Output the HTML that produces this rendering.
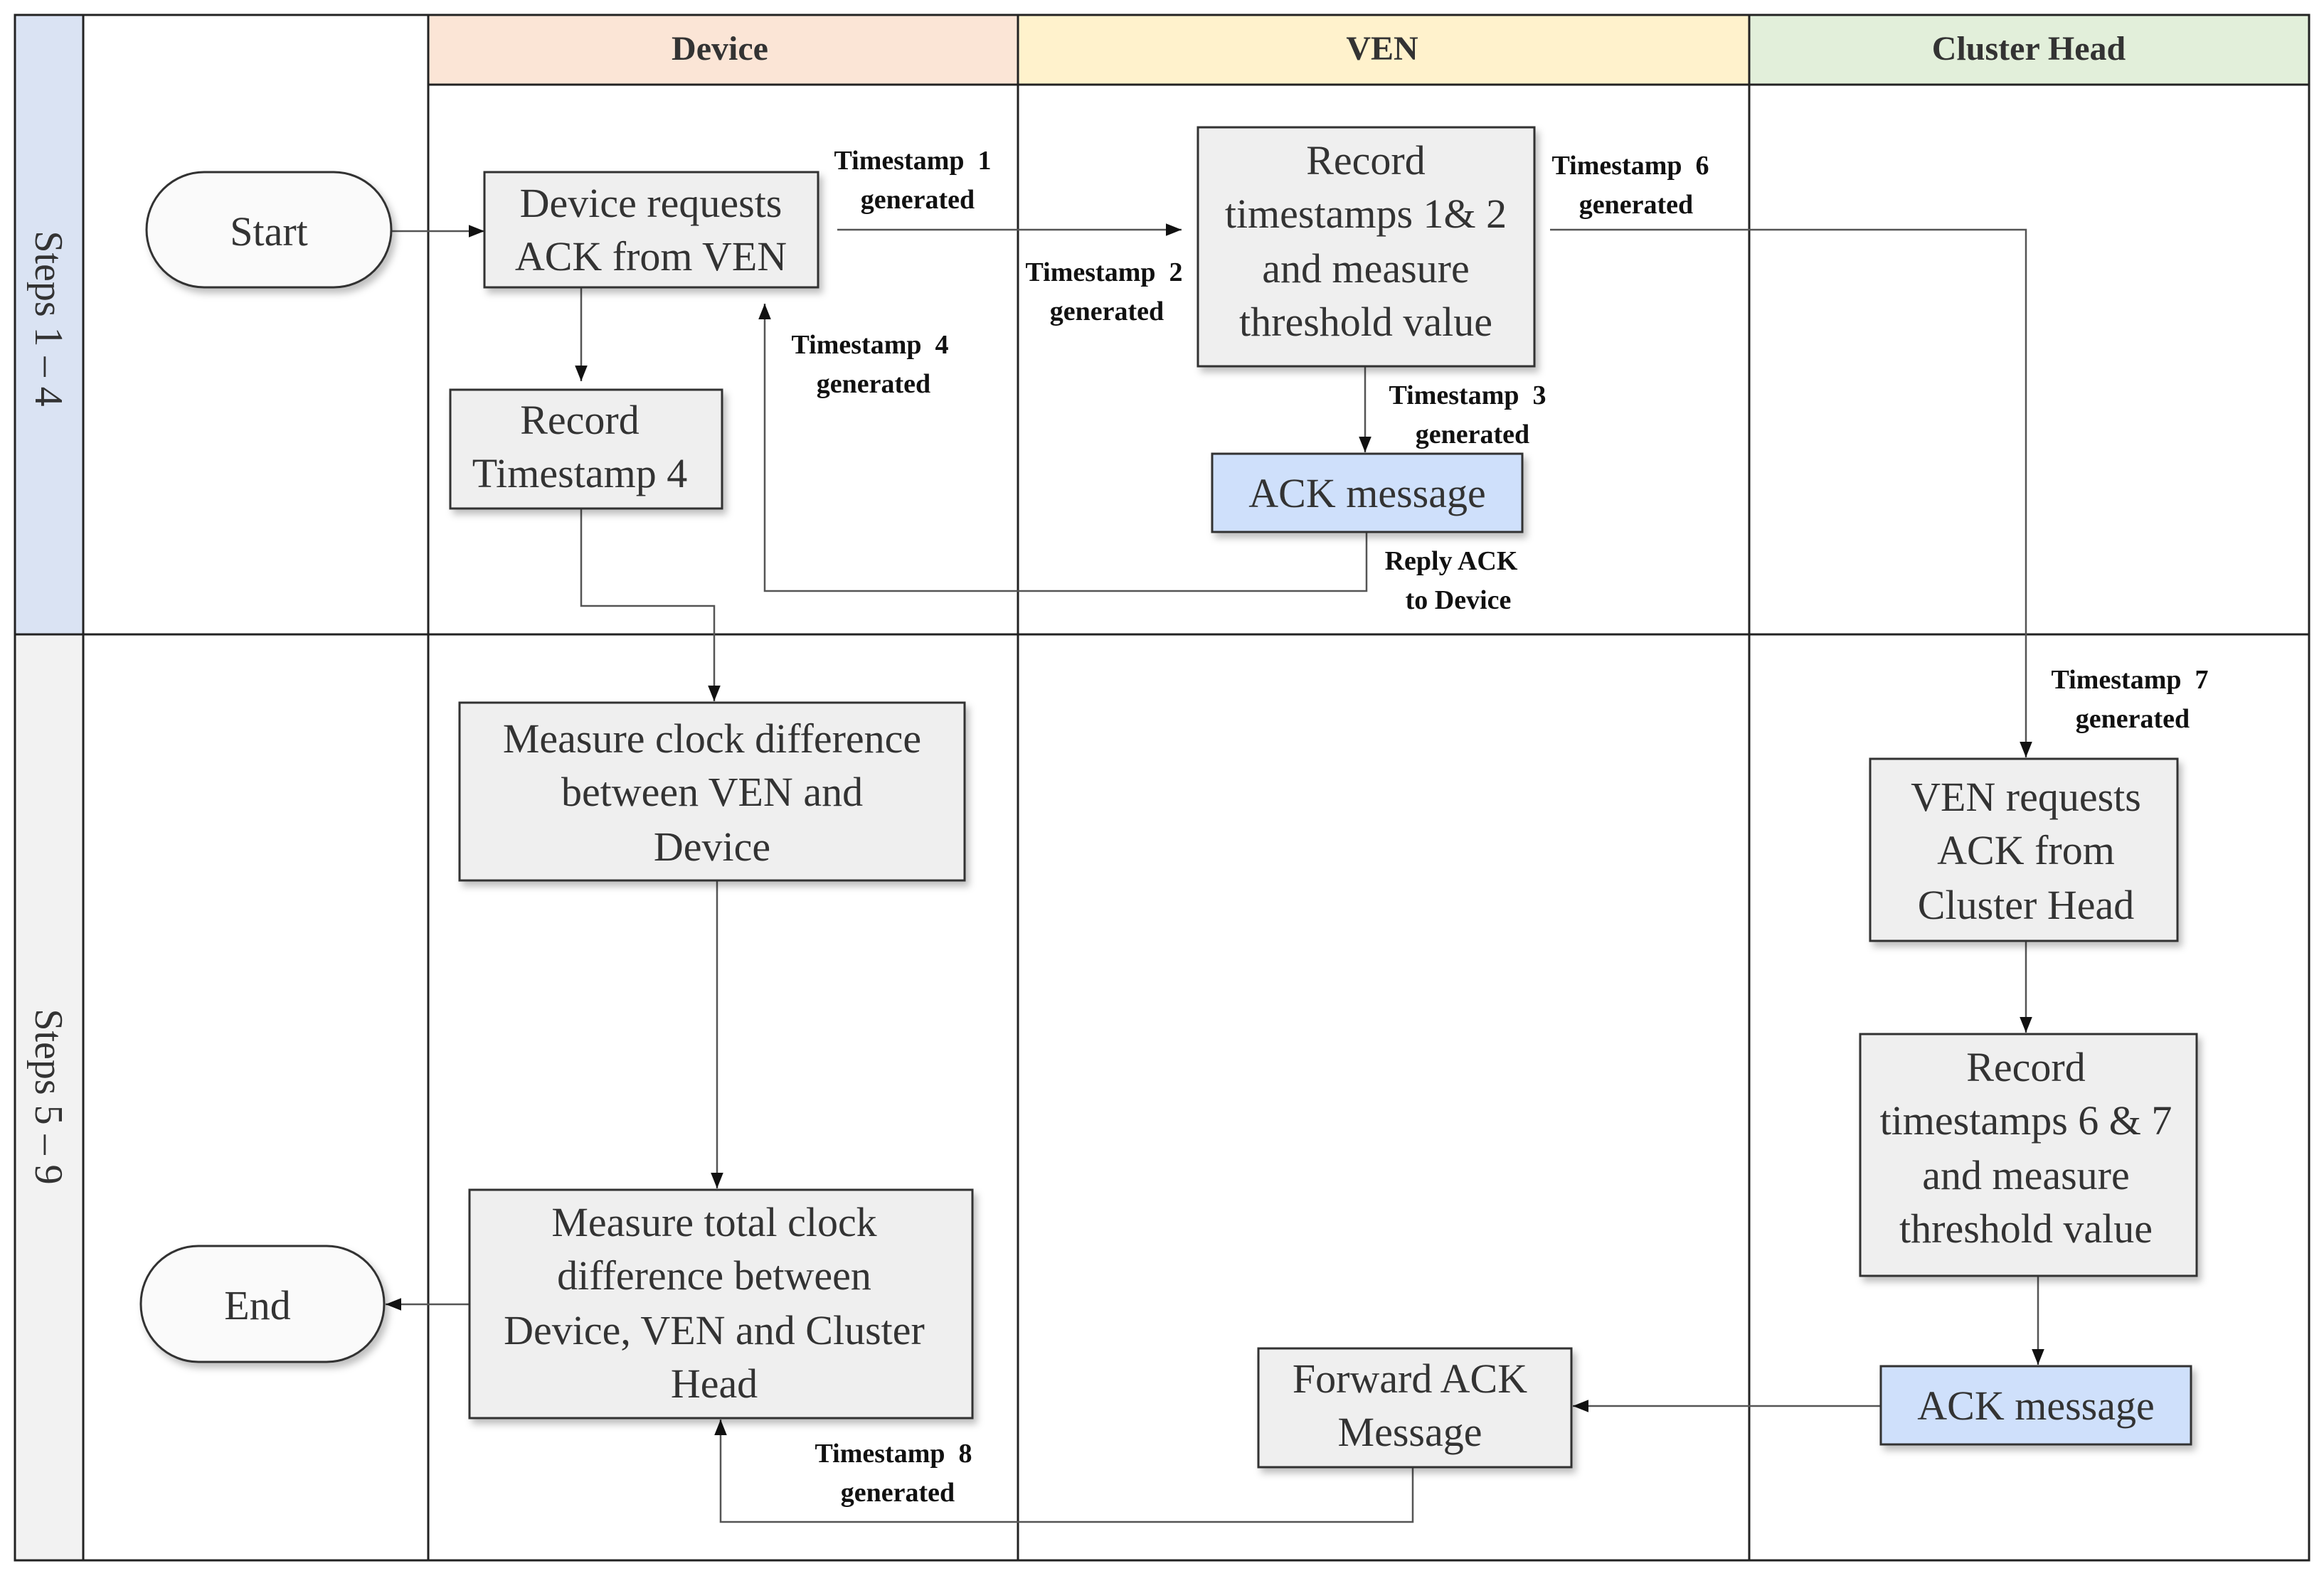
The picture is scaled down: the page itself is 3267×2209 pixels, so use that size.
<!DOCTYPE html>
<html><head><meta charset="utf-8"><style>
html,body{margin:0;padding:0;background:#fff}
svg{display:block}
.n{font-family:"Liberation Serif",serif;font-size:58px;fill:#333;text-anchor:middle}
.l{font-family:"Liberation Serif",serif;font-size:38px;font-weight:bold;fill:#111;text-anchor:middle}
.h{font-family:"Liberation Serif",serif;font-size:48px;font-weight:bold;fill:#333;text-anchor:middle}
.s{font-family:"Liberation Serif",serif;font-size:56px;fill:#333;text-anchor:middle}
.b{fill:#efefef;stroke:#333;stroke-width:3}
.bb{fill:#cfe0fb;stroke:#333;stroke-width:3}
.c{fill:none;stroke:#555;stroke-width:2.5}
</style></head><body>
<svg width="3267" height="2209" viewBox="0 0 3267 2209" xmlns="http://www.w3.org/2000/svg">
<defs>
<marker id="a" viewBox="0 0 10 10" refX="10" refY="5" markerWidth="22" markerHeight="22" markerUnits="userSpaceOnUse" orient="auto"><path d="M0,1 L10,5 L0,9 z" fill="#111"/></marker>
<filter id="sh" x="-10%" y="-10%" width="130%" height="130%"><feDropShadow dx="5" dy="7" stdDeviation="5" flood-color="#000" flood-opacity="0.25"/></filter>
</defs>
<rect x="21" y="21" width="96" height="871" fill="#dae3f3"/>
<rect x="21" y="892" width="96" height="1302" fill="#f2f2f2"/>
<rect x="602" y="21" width="829" height="98" fill="#fbe5d6"/>
<rect x="1431" y="21" width="1028" height="98" fill="#fff2cc"/>
<rect x="2459" y="21" width="787" height="98" fill="#e2efda"/>
<g stroke="#222" stroke-width="3" fill="none">
<rect x="21" y="21" width="3225" height="2173"/>
<line x1="117" y1="21" x2="117" y2="2194"/>
<line x1="602" y1="21" x2="602" y2="2194"/>
<line x1="1431" y1="21" x2="1431" y2="2194"/>
<line x1="2459" y1="21" x2="2459" y2="2194"/>
<line x1="602" y1="119" x2="3246" y2="119"/>
<line x1="21" y1="892" x2="3246" y2="892"/>
</g>
<text class="h" x="1012" y="84">Device</text>
<text class="h" x="1943" y="84">VEN</text>
<text class="h" x="2852" y="84">Cluster Head</text>
<text class="s" transform="translate(50,448) rotate(90)">Steps 1 – 4</text>
<text class="s" transform="translate(50,1542) rotate(90)">Steps 5 – 9</text>

<g class="c">
<line x1="550" y1="325" x2="681" y2="325" marker-end="url(#a)"/>
<line x1="817" y1="404" x2="817" y2="536" marker-end="url(#a)"/>
<line x1="1177" y1="323" x2="1661" y2="323" marker-end="url(#a)"/>
<polyline points="1921,748 1921,831 1075,831 1075,427" marker-end="url(#a)"/>
<line x1="1919" y1="515" x2="1919" y2="636" marker-end="url(#a)"/>
<polyline points="2179,323 2848,323 2848,1065" marker-end="url(#a)"/>
<polyline points="817,715 817,852 1004,852 1004,986" marker-end="url(#a)"/>
<line x1="1008" y1="1238" x2="1008" y2="1671" marker-end="url(#a)"/>
<line x1="2848" y1="1323" x2="2848" y2="1452" marker-end="url(#a)"/>
<line x1="2865" y1="1794" x2="2865" y2="1919" marker-end="url(#a)"/>
<line x1="2644" y1="1977" x2="2211" y2="1977" marker-end="url(#a)"/>
<polyline points="1986,2063 1986,2140 1013,2140 1013,1996" marker-end="url(#a)"/>
<line x1="660" y1="1834" x2="542" y2="1834" marker-end="url(#a)"/>
</g>

<g filter="url(#sh)">
<rect x="206" y="242" width="344" height="162" rx="81" fill="#fafafa" stroke="#333" stroke-width="3"/>
<rect class="b" x="681" y="242" width="469" height="162"/>
<rect class="b" x="633" y="548" width="382" height="167"/>
<rect class="b" x="1684" y="179" width="473" height="336"/>
<rect class="bb" x="1704" y="638" width="436" height="110"/>
<rect class="b" x="646" y="988" width="710" height="250"/>
<rect class="b" x="660" y="1673" width="707" height="321"/>
<rect x="198" y="1752" width="342" height="163" rx="81" fill="#fafafa" stroke="#333" stroke-width="3"/>
<rect class="b" x="1769" y="1896" width="440" height="167"/>
<rect class="b" x="2629" y="1067" width="432" height="256"/>
<rect class="b" x="2615" y="1454" width="473" height="340"/>
<rect class="bb" x="2644" y="1921" width="436" height="110"/>
</g>
<text class="n" x="378" y="345">Start</text>
<text class="n" x="915" y="305">Device requests</text>
<text class="n" x="915" y="380">ACK from VEN</text>
<text class="n" x="815" y="610">Record</text>
<text class="n" x="815" y="685">Timestamp 4</text>
<text class="n" x="1920" y="245">Record</text>
<text class="n" x="1920" y="320">timestamps 1&amp; 2</text>
<text class="n" x="1920" y="397">and measure</text>
<text class="n" x="1920" y="472">threshold value</text>
<text class="n" x="1922" y="713">ACK message</text>
<text class="n" x="1001" y="1058">Measure clock difference</text>
<text class="n" x="1001" y="1133">between VEN and</text>
<text class="n" x="1001" y="1210">Device</text>
<text class="n" x="1004" y="1738">Measure total clock</text>
<text class="n" x="1004" y="1813">difference between</text>
<text class="n" x="1004" y="1890">Device, VEN and Cluster</text>
<text class="n" x="1004" y="1965">Head</text>
<text class="n" x="362" y="1855">End</text>
<text class="n" x="1982" y="1958">Forward ACK</text>
<text class="n" x="1982" y="2033">Message</text>
<text class="n" x="2848" y="1140">VEN requests</text>
<text class="n" x="2848" y="1215">ACK from</text>
<text class="n" x="2848" y="1292">Cluster Head</text>
<text class="n" x="2848" y="1520">Record</text>
<text class="n" x="2848" y="1595">timestamps 6 &amp; 7</text>
<text class="n" x="2848" y="1672">and measure</text>
<text class="n" x="2848" y="1747">threshold value</text>
<text class="n" x="2862" y="1996">ACK message</text>

<text class="l" x="1283" y="238">Timestamp&#160;&#160;1</text>
<text class="l" x="1290" y="293">generated</text>
<text class="l" x="1552" y="395">Timestamp&#160;&#160;2</text>
<text class="l" x="1556" y="450">generated</text>
<text class="l" x="1223" y="497">Timestamp&#160;&#160;4</text>
<text class="l" x="1228" y="552">generated</text>
<text class="l" x="2063" y="568">Timestamp&#160;&#160;3</text>
<text class="l" x="2070" y="623">generated</text>
<text class="l" x="2040" y="801">Reply ACK</text>
<text class="l" x="2050" y="856">to Device</text>
<text class="l" x="2292" y="245">Timestamp&#160;&#160;6</text>
<text class="l" x="2300" y="300">generated</text>
<text class="l" x="2994" y="968">Timestamp&#160;&#160;7</text>
<text class="l" x="2998" y="1023">generated</text>
<text class="l" x="1256" y="2056">Timestamp&#160;&#160;8</text>
<text class="l" x="1262" y="2111">generated</text>
</svg>
</body></html>
